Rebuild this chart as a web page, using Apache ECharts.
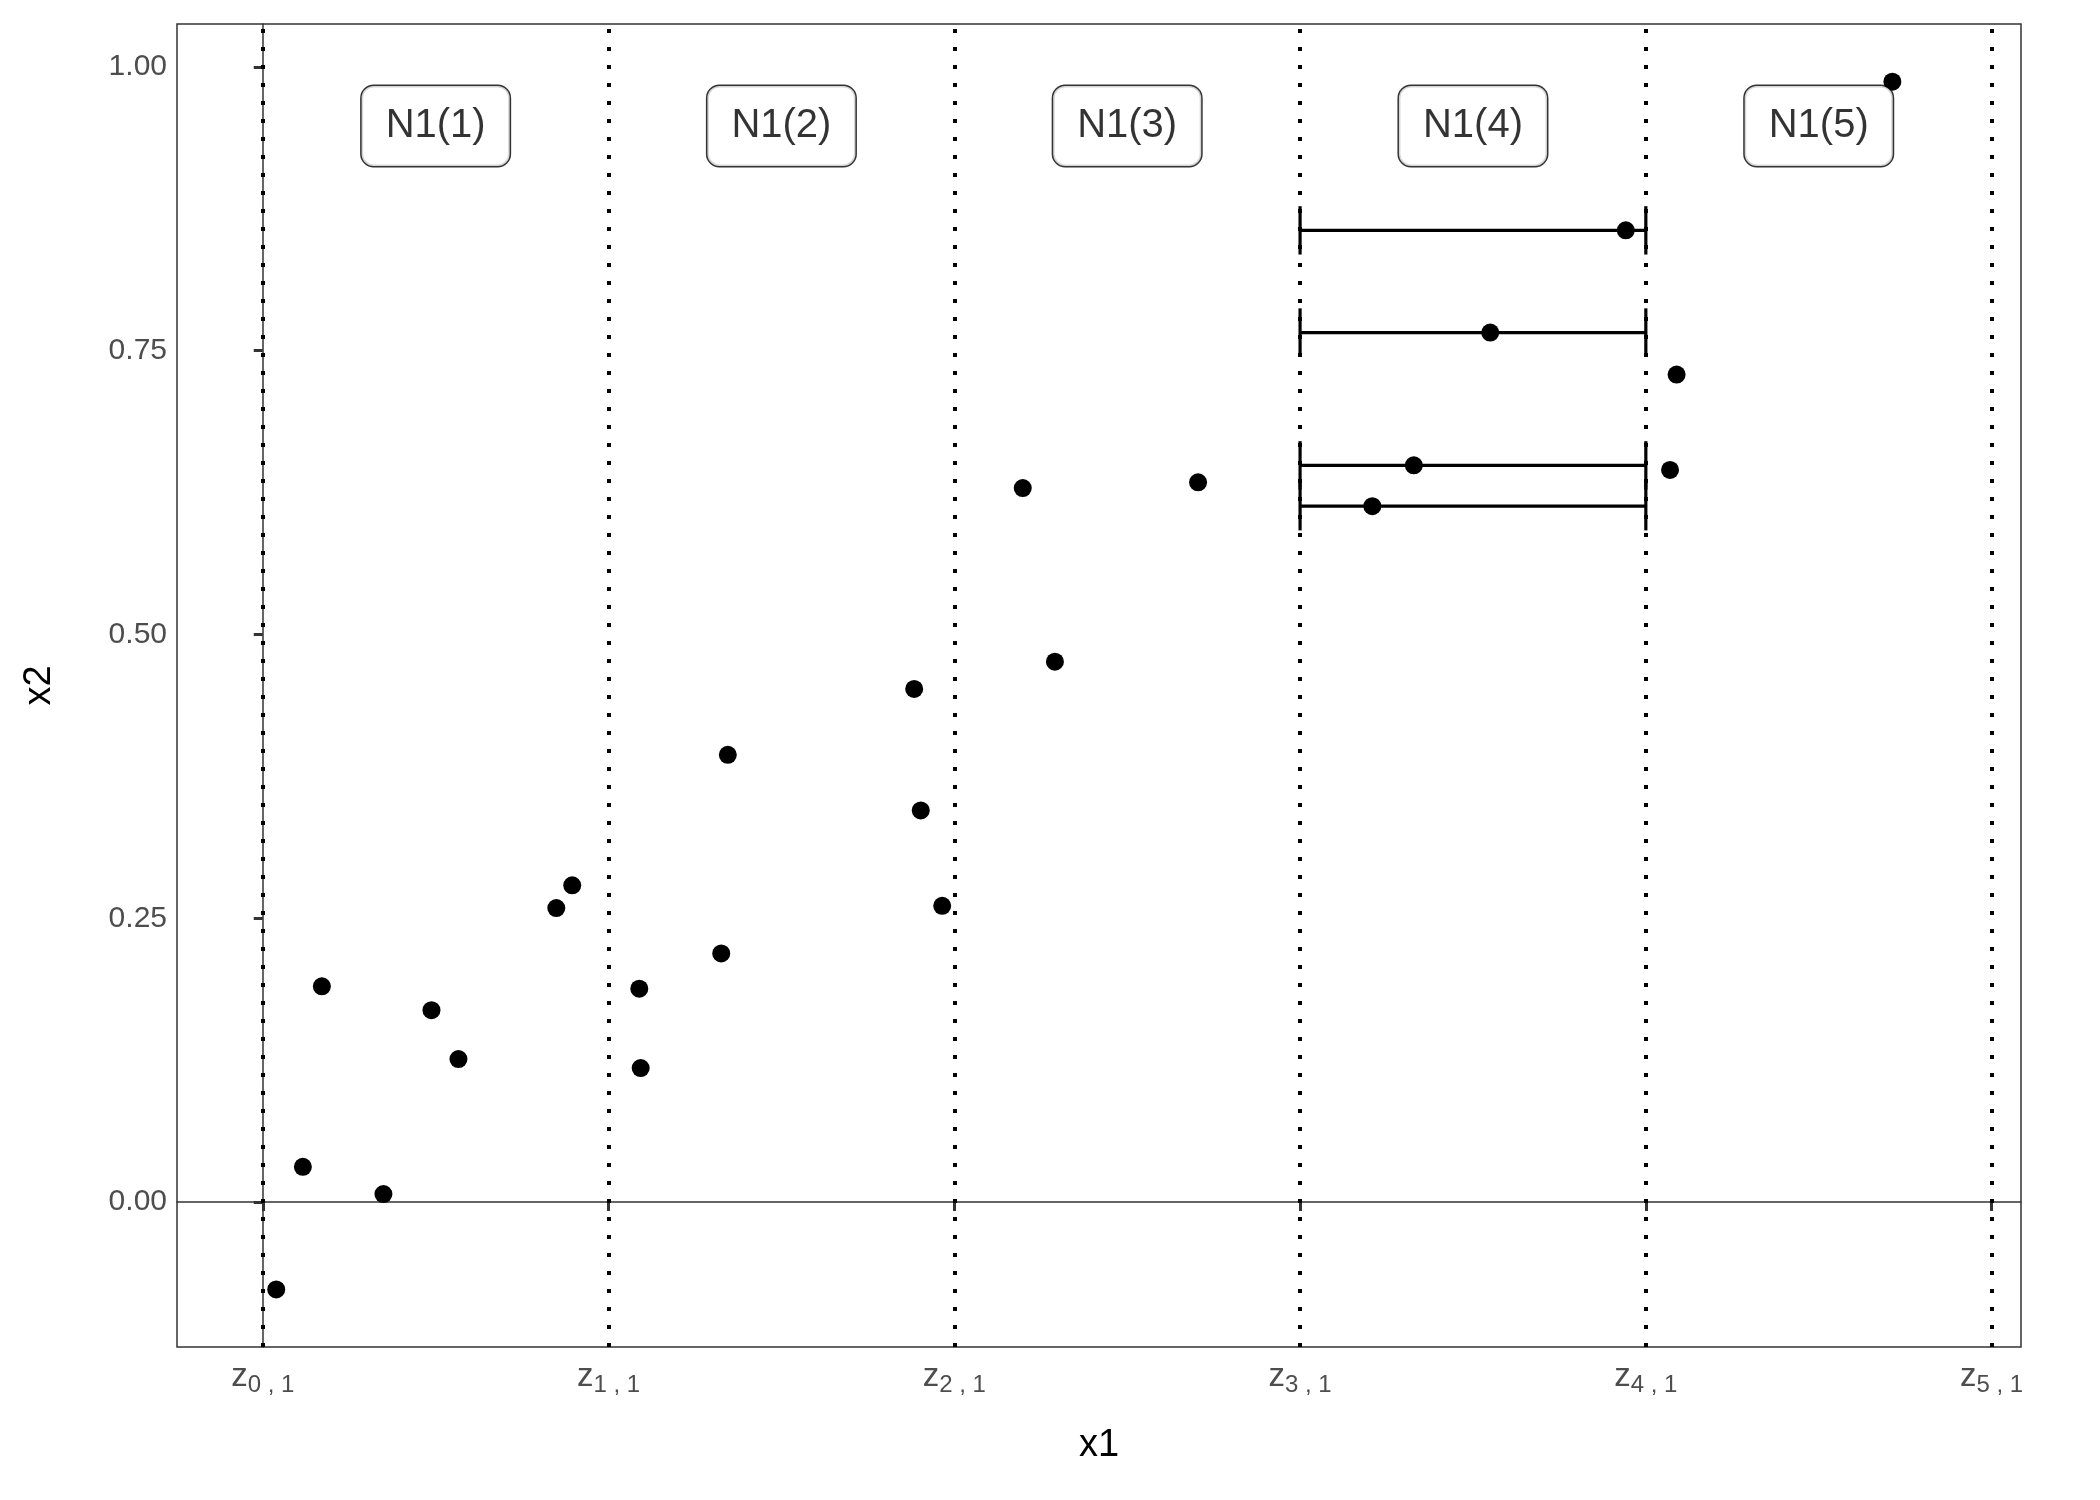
<!DOCTYPE html>
<html><head><meta charset="utf-8">
<script src="https://cdn.jsdelivr.net/npm/echarts@6/dist/echarts.min.js"></script>
<style>html,body{margin:0;padding:0;background:#fff}#c{width:2100px;height:1500px}</style>
</head><body><div id="c"></div>
<script>
const pointsX = [0.039,0.116,0.171,0.349,0.488,0.566,0.849,0.895,1.089,1.093,1.326,1.345,1.884,1.903,1.965,2.198,2.291,2.705,3.209,3.329,3.550,3.942,4.070,4.089,4.713];
const pointsY = [-0.077,0.031,0.190,0.007,0.169,0.126,0.259,0.279,0.188,0.118,0.219,0.394,0.452,0.345,0.261,0.629,0.476,0.634,0.613,0.649,0.766,0.856,0.645,0.729,0.987];
const boundaries = [0,1,2,3,4,5];
const regionLabels = ['N1(1)','N1(2)','N1(3)','N1(4)','N1(5)'];
const regionLabelX = [0.5,1.5,2.5,3.5,4.5];
const regionLabelY = 0.948;
const barY = [0.613,0.649,0.766,0.856];
const barFrom = 3, barTo = 4;
const yTicks = [0,0.25,0.5,0.75,1];

const chart = echarts.init(document.getElementById('c'));
const font = 'Liberation Sans, Arial, sans-serif';
const axLine = {show:true,lineStyle:{color:'#333',width:1.5}};
chart.setOption({
  animation:false,
  grid:{left:177,right:79,top:24,bottom:153,show:true,borderColor:'#333',borderWidth:1.5,backgroundColor:'#fff'},
  xAxis:{type:'value',min:-0.248,max:5.085,name:'x1',nameLocation:'middle',nameGap:80,
    nameTextStyle:{fontSize:38,color:'#000',fontFamily:font},
    axisLine:axLine,splitLine:{show:false},
    axisTick:{show:true,inside:false,customValues:boundaries,length:9,lineStyle:{color:'#333',width:3}},
    axisLabel:{customValues:boundaries,margin:10,color:'#4d4d4d',fontFamily:font,
      formatter:v=>'{z|z}{s|'+v+' , 1}',
      rich:{z:{fontSize:33,color:'#4d4d4d',fontFamily:font},s:{fontSize:24,color:'#4d4d4d',fontFamily:font,verticalAlign:'bottom',padding:[16,0,0,0]}}}},
  yAxis:{type:'value',min:-0.1277,max:1.0378,name:'x2',nameLocation:'middle',nameGap:118,
    nameTextStyle:{fontSize:38,color:'#000',fontFamily:font},
    axisLine:axLine,splitLine:{show:false},
    axisTick:{show:true,inside:false,customValues:yTicks,length:9,lineStyle:{color:'#333',width:3}},
    axisLabel:{customValues:yTicks,margin:10,fontSize:30,color:'#4d4d4d',fontFamily:font,formatter:v=>v.toFixed(2)}},
  series:[
    {type:'scatter',data:[],markLine:{silent:true,symbol:'none',label:{show:false},
      lineStyle:{type:[4,14],color:'#000',width:4,opacity:1},
      data:boundaries.map(b=>({xAxis:b}))}},
    {type:'custom',data:barY.map(y=>[barFrom,barTo,y]),z:3,
      renderItem:(p,api)=>{
        const a=api.coord([api.value(0),api.value(2)]),b=api.coord([api.value(1),api.value(2)]);
        const h=api.size([0,0.0213])[1];
        const st={stroke:'#000',lineWidth:3.2};
        return {type:'group',children:[
          {type:'line',shape:{x1:a[0],y1:a[1],x2:b[0],y2:b[1]},style:st},
          {type:'line',shape:{x1:a[0],y1:a[1]-h,x2:a[0],y2:a[1]+h},style:st},
          {type:'line',shape:{x1:b[0],y1:b[1]-h,x2:b[0],y2:b[1]+h},style:st}]};
      }},
    {type:'scatter',symbolSize:18,itemStyle:{color:'#000',opacity:1},z:4,
      data:pointsX.map((x,i)=>[x,pointsY[i]])},
    {type:'scatter',symbolSize:0,z:5,
      data:regionLabelX.map((x,i)=>({value:[x,regionLabelY],name:regionLabels[i]})),
      label:{show:true,position:'inside',formatter:p=>p.name,fontSize:40,color:'#000',fontFamily:font,
        backgroundColor:'#fff',borderColor:'#000',borderWidth:1.5,borderRadius:12,padding:[20,24,20,24]}}
  ]
});
</script></body></html>
